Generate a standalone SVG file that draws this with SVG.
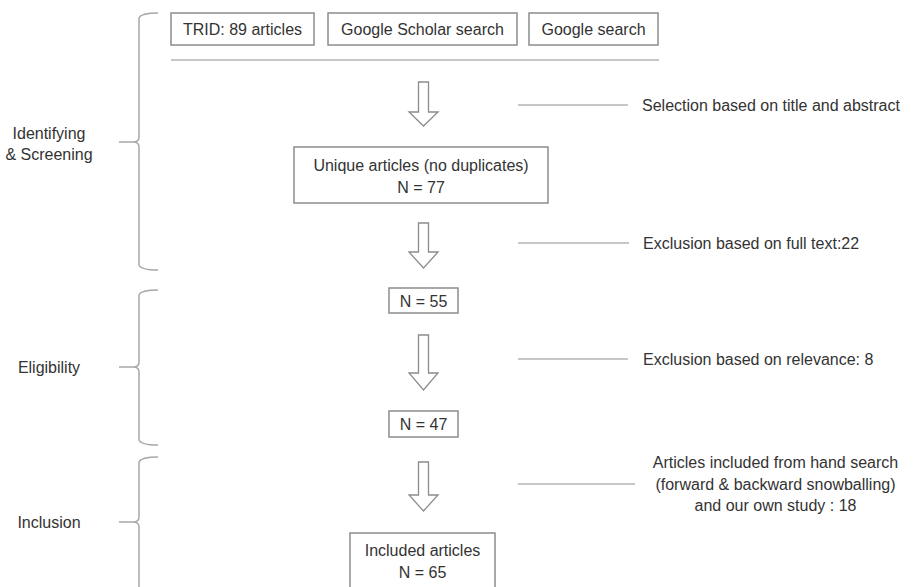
<svg xmlns="http://www.w3.org/2000/svg" width="913" height="587" viewBox="0 0 913 587">
<style>
text{font-family:"Liberation Sans",Arial,sans-serif;font-size:16px;fill:#333;}
.c{text-anchor:middle;}
.box{fill:#fff;stroke:#8c8c8c;stroke-width:1.5;}
.ln{stroke:#b4b4b4;stroke-width:1.5;fill:none;}
.br{stroke:#a8a8a8;stroke-width:1.5;fill:none;}
.arr{fill:#fff;stroke:#8c8c8c;stroke-width:1.3;stroke-linejoin:miter;}
</style>
<rect width="913" height="587" fill="#fff"/>

<g id="braces">
<path class="br" d="M158,13 Q141,13 139,18 V137 Q139,142 133,142 H119 M133,142 Q139,142 139,147 V265 Q141,270 158,270"/>
<path class="br" d="M158,290 Q141,290 139,295 V362 Q139,367 133,367 H119 M133,367 Q139,367 139,372 V440 Q141,445 158,445"/>
<path class="br" d="M158,457 Q141,457 139,462 V517 Q139,522 133,522 H119 M133,522 Q139,522 139,527 V587 Q141,592 158,592"/>
</g>

<g id="stage-labels">
<text class="c" x="49" y="139">Identifying</text>
<text class="c" x="49" y="160">&amp; Screening</text>
<text class="c" x="49" y="373">Eligibility</text>
<text class="c" x="49" y="528">Inclusion</text>
</g>

<g id="trid">
<rect class="box" x="171" y="13" width="143" height="32"/>
<text class="c" x="242.5" y="35">TRID: 89 articles</text>
</g>
<g id="scholar">
<rect class="box" x="328" y="13" width="189" height="32"/>
<text class="c" x="422.5" y="35">Google Scholar search</text>
</g>
<g id="google">
<rect class="box" x="529" y="13" width="129" height="32"/>
<text class="c" x="593.5" y="35">Google search</text>
</g>

<g id="unique">
<rect class="box" x="294" y="147" width="254" height="56"/>
<text class="c" x="421" y="171">Unique articles (no duplicates)</text>
<text class="c" x="421" y="193">N = 77</text>
</g>
<g id="n55">
<rect class="box" x="389" y="288" width="69" height="25"/>
<text class="c" x="423.5" y="306.5">N = 55</text>
</g>
<g id="n47">
<rect class="box" x="389" y="411" width="69" height="26"/>
<text class="c" x="423.5" y="430">N = 47</text>
</g>
<g id="included">
<rect class="box" x="350" y="533" width="145" height="60"/>
<text class="c" x="422.5" y="556">Included articles</text>
<text class="c" x="422.5" y="578">N = 65</text>
</g>

<g id="notes">
<text x="642" y="111">Selection based on title and abstract</text>
<text x="643" y="249">Exclusion based on full text:22</text>
<text x="643" y="365">Exclusion based on relevance: 8</text>
<text class="c" x="775.5" y="468">Articles included from hand search</text>
<text class="c" x="775.5" y="490">(forward &amp; backward snowballing)</text>
<text class="c" x="775.5" y="511">and our own study : 18</text>
</g>

<g id="connectors">
<line class="ln" x1="171" y1="60" x2="659" y2="60"/>
<path class="arr" d="M418.5,82 H428.5 V112 H438 L423.5,126 L409,112 H418.5 Z"/>
<path class="arr" d="M418.5,223 H428.5 V252 H438 L423.5,268 L409,252 H418.5 Z"/>
<path class="arr" d="M418.5,335 H428.5 V373 H438 L423.5,390 L409,373 H418.5 Z"/>
<path class="arr" d="M418.5,462 H428.5 V495 H438 L423.5,511 L409,495 H418.5 Z"/>
<line class="ln" x1="518" y1="105" x2="628" y2="105"/>
<line class="ln" x1="518" y1="243" x2="629" y2="243"/>
<line class="ln" x1="518" y1="359" x2="628" y2="359"/>
<line class="ln" x1="518" y1="484" x2="635" y2="484"/>
</g>
</svg>
